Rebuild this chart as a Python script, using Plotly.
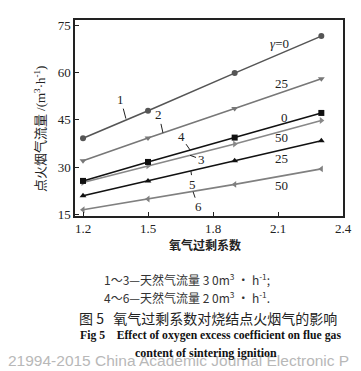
import plotly.graph_objects as go

x_vals = [1.2, 1.5, 1.9, 2.3]
s1 = [39.2, 47.9, 59.8, 71.5]
s2 = [32.1, 39.3, 48.6, 58.0]
s3 = [25.2, 30.5, 37.4, 44.8]
s4 = [25.7, 31.7, 39.4, 47.2]
s5 = [21.0, 25.7, 32.1, 38.4]
s6 = [16.6, 20.0, 24.6, 29.5]

x_ticks = [1.2, 1.5, 1.8, 2.1, 2.4]
y_ticks = [15, 30, 45, 60, 75]

series = [
    (s1, "circle", "#555555", "1"),
    (s2, "triangle-down", "#777777", "2"),
    (s3, "triangle-right", "#888888", "3"),
    (s4, "square", "#111111", "4"),
    (s5, "triangle-up", "#111111", "5"),
    (s6, "triangle-left", "#808080", "6"),
]

serif = "Liberation Serif, DejaVu Serif, serif"
cjk = "Noto Sans CJK SC, sans-serif"

fig = go.Figure()
for ys, sym, col, name in series:
    fig.add_trace(go.Scatter(
        x=x_vals, y=ys, mode="lines+markers", name=name,
        line=dict(color=col, width=1.6),
        marker=dict(symbol=sym, size=6, color=col),
        showlegend=False,
    ))

ann = []
leaders = [
    ("1", 1.398, 45.4, -5, -19),
    ("2", 1.569, 40.9, -4, -18),
    ("4", 1.694, 35.5, -9, -13),
    ("3", 1.694, 33.8, 11, 4),
    ("5", 1.698, 28.8, 2, 13),
    ("6", 1.708, 22.3, 5, 15),
]
for t, xx, yy, ax, ay in leaders:
    ann.append(dict(x=xx, y=yy, text=t, showarrow=True, arrowhead=0, arrowwidth=1,
                    arrowcolor="#222", ax=ax, ay=ay,
                    font=dict(family=serif, size=13, color="#222")))

gamma = [
    ("<i>γ</i>=0", 2.109, 69.3),
    ("25", 2.118, 56.6),
    ("0", 2.132, 45.9),
    ("50", 2.118, 39.4),
    ("25", 2.118, 32.8),
    ("50", 2.118, 24.4),
]
for t, xx, yy in gamma:
    ann.append(dict(x=xx, y=yy, text=t, showarrow=False,
                    font=dict(family=serif, size=13, color="#222")))

def px2py(py):
    return 1 - (py - 10) / 198.0

def px2px(px):
    return (px - 67) / 268.0

# watermark (partly cut off at the bottom edge, as in the scanned source)
ann.append(dict(xref="paper", yref="paper", x=px2px(-2), y=px2py(354), xanchor="left",
                yanchor="middle", text="21994-2015 China Academic Journal Electronic P",
                showarrow=False, font=dict(family="Liberation Sans, sans-serif", size=15.5, color="#b8b8b8")))

ann.append(dict(xref="paper", yref="paper", x=px2px(32), y=px2py(120), textangle=-90,
                text="点火烟气流量 <span style=\"font-family:Liberation Serif\">/(m<sup>3</sup>·h<sup>-1</sup>)</span>",
                showarrow=False, xanchor="center", yanchor="middle",
                font=dict(family=cjk, size=13, color="#222")))
ann.append(dict(xref="paper", yref="paper", x=px2px(197), y=px2py(237),
                text="<b>氧气过剩系数</b>", showarrow=False, yanchor="middle",
                font=dict(family=cjk, size=12, color="#222")))
ann.append(dict(xref="paper", yref="paper", x=px2px(179), y=px2py(272),
                text="1～3—天然气流量 3 0m<sup>3</sup> · h<sup>-1</sup>;", showarrow=False, yanchor="middle",
                font=dict(family=cjk, size=12, color="#333")))
ann.append(dict(xref="paper", yref="paper", x=px2px(179), y=px2py(290),
                text="4～6—天然气流量 2 0m<sup>3</sup> · h<sup>-1</sup>.", showarrow=False, yanchor="middle",
                font=dict(family=cjk, size=12, color="#333")))
ann.append(dict(xref="paper", yref="paper", x=px2px(200), y=px2py(311),
                text="图 5   氧气过剩系数对烧结点火烟气的影响", showarrow=False, yanchor="middle",
                font=dict(family=cjk, size=14, color="#222")))
ann.append(dict(xref="paper", yref="paper", x=px2px(202), y=px2py(329),
                text="<b>Fig 5    Effect of oxygen excess coefficient on flue gas</b>", showarrow=False, yanchor="middle",
                font=dict(family=serif, size=11.7, color="#111")))
ann.append(dict(xref="paper", yref="paper", x=px2px(198), y=px2py(346),
                text="<b>content of sintering ignition</b>", showarrow=False, yanchor="middle",
                font=dict(family=serif, size=12, color="#111")))

fig.update_layout(
    width=361, height=371,
    margin=dict(l=67, r=26, t=10, b=163),
    paper_bgcolor="white", plot_bgcolor="white",
    annotations=ann,
    xaxis=dict(range=[1.163, 2.4], tickvals=x_ticks, ticktext=[f"{v:.1f}" for v in x_ticks],
               ticks="inside", ticklen=4, tickcolor="#222",
               showline=True, linecolor="#222", linewidth=1.5, mirror=True,
               showgrid=False, zeroline=False,
               tickfont=dict(family=serif, size=13, color="#222")),
    yaxis=dict(range=[14.6, 76.6], tickvals=y_ticks,
               ticks="inside", ticklen=4, tickcolor="#222",
               showline=True, linecolor="#222", linewidth=1.5, mirror=True,
               showgrid=False, zeroline=False,
               tickfont=dict(family=serif, size=13, color="#222")),
)

fig.write_html("out.html")
